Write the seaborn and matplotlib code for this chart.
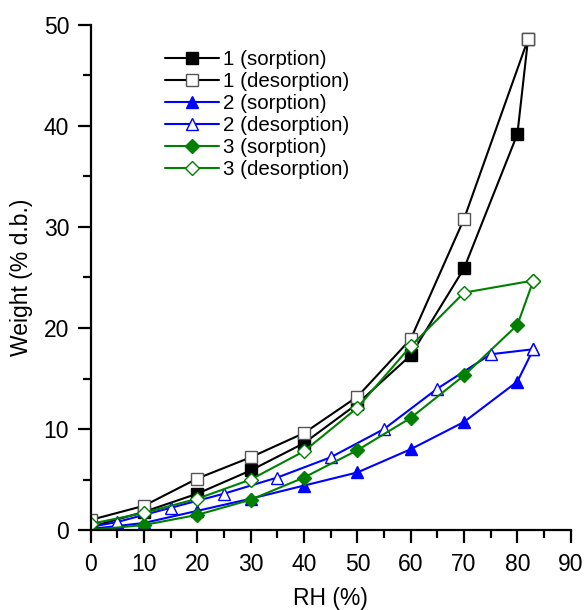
import matplotlib
matplotlib.use("Agg")
import matplotlib.pyplot as plt
import seaborn as sns
import pandas as pd
from matplotlib.ticker import MultipleLocator

sns.set_style("ticks")
plt.rcParams['font.family'] = ['Liberation Sans', 'DejaVu Sans']
plt.rcParams.update({"text.color": "black", "axes.labelcolor": "black",
                     "xtick.color": "black", "ytick.color": "black",
                     "axes.edgecolor": "black"})

rh_s = [0, 10, 20, 30, 40, 50, 60, 70, 80]
s1_sorp_x = rh_s + [82]
s1_sorp_y = [0.3, 1.8, 3.6, 5.9, 8.6, 12.5, 17.3, 25.9, 39.2, 48.6]
s1_des_x = [82, 70, 60, 50, 40, 30, 20, 10, 0]
s1_des_y = [48.6, 30.8, 18.9, 13.2, 9.6, 7.2, 5.1, 2.4, 1.0]

s2_sorp_x = rh_s + [83]
s2_sorp_y = [0.1, 0.7, 1.9, 3.1, 4.4, 5.7, 8.0, 10.7, 14.7, 17.9]
s2_des_x = [83, 75, 65, 55, 45, 35, 25, 15, 5, 0]
s2_des_y = [17.9, 17.4, 14.0, 10.0, 7.2, 5.2, 3.6, 2.2, 0.8, 0.3]

s3_sorp_x = rh_s + [83]
s3_sorp_y = [0.0, 0.5, 1.5, 3.0, 5.2, 7.9, 11.1, 15.3, 20.3, 24.7]
s3_des_x = [83, 70, 60, 50, 40, 30, 20, 10, 0]
s3_des_y = [24.7, 23.5, 18.2, 12.1, 7.8, 5.0, 3.1, 1.7, 0.6]

series = [
    ("1 (sorption)", s1_sorp_x, s1_sorp_y, "black", "s", True),
    ("1 (desorption)", s1_des_x, s1_des_y, "black", "s", False),
    ("2 (sorption)", s2_sorp_x, s2_sorp_y, "blue", "^", True),
    ("2 (desorption)", s2_des_x, s2_des_y, "blue", "^", False),
    ("3 (sorption)", s3_sorp_x, s3_sorp_y, "green", "D", True),
    ("3 (desorption)", s3_des_x, s3_des_y, "green", "D", False),
]

fig = plt.figure(figsize=(5.85, 6.10), dpi=100)
ax = fig.add_axes([0.155, 0.1311, 0.8206, 0.828])

for label, xs, ys, col, mk, filled in series:
    df = pd.DataFrame({"RH": xs, "W": ys})
    ms = 8 if mk != "D" else 7
    ecol = col if mk != "s" or filled else "#555555"
    sns.lineplot(data=df, x="RH", y="W", sort=False, ax=ax, color=col,
                 marker=mk, markersize=ms, linewidth=1.5,
                 markerfacecolor=col if filled else "white",
                 markeredgecolor=ecol, markeredgewidth=1.0,
                 label=label, estimator=None)

ax.set_xlim(0, 90)
ax.set_ylim(0, 50)
ax.xaxis.set_major_locator(MultipleLocator(10))
ax.xaxis.set_minor_locator(MultipleLocator(5))
ax.yaxis.set_major_locator(MultipleLocator(10))
ax.yaxis.set_minor_locator(MultipleLocator(5))
ax.tick_params(axis="both", which="major", direction="out", length=9.5, width=1.6, labelsize=16.5)
ax.tick_params(axis="x", which="major", pad=7)
ax.tick_params(axis="y", which="major", pad=6)
ax.tick_params(axis="both", which="minor", direction="out", length=5.5, width=1.6)
for sp in ["left", "bottom"]:
    ax.spines[sp].set_linewidth(1.6)
sns.despine(ax=ax)
ax.set_xlabel("RH (%)", fontsize=16.5, labelpad=8)
ax.set_ylabel("Weight (% d.b.)", fontsize=16.5, labelpad=8)

leg = ax.legend(loc="upper left", bbox_to_anchor=(0.13, 0.975), frameon=False,
                fontsize=14.8, handlelength=2.6, labelspacing=0.15, handletextpad=0.2,
                borderaxespad=0.2)

fig.savefig("out.png", dpi=100)
